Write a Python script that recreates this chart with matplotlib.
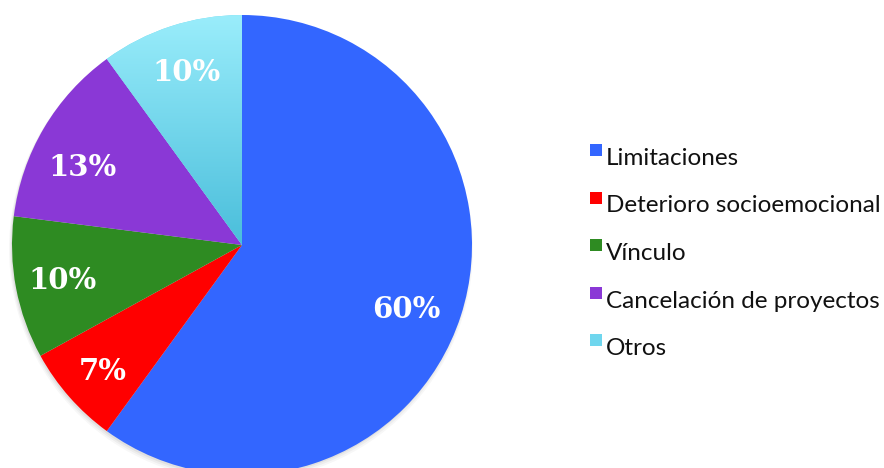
import matplotlib.pyplot as plt
import numpy as np
from matplotlib.patches import Rectangle
from matplotlib.colors import LinearSegmentedColormap

# Data
categorias = ["Limitaciones", "Deterioro socioemocional", "Vínculo",
              "Cancelación de proyectos", "Otros"]
porcentajes = [60, 7, 10, 13, 10]
colores = ["#3366FF", "#FF0000", "#2E8B22", "#8A38D6", "#6FD6EE"]

# small pixel nudges for the percentage labels
ajustes = [(-6, -7), (-5, -6), (-3, 0), (-5, -12), (0, 4)]

# Figure in pixel units
fig = plt.figure(figsize=(8.84, 4.68), dpi=100)
ax = fig.add_axes([0, 0, 1, 1])

centro = (242, 468 - 245)
radio = 230

# soft shadow under the pie
for k, a in enumerate([0.05, 0.04, 0.03]):
    sombra = plt.Circle((centro[0] - 1, centro[1] - 2 - k), radio + k,
                        color="black", alpha=a, lw=0, zorder=0)
    ax.add_patch(sombra)

wedges, textos, autotextos = ax.pie(
    porcentajes, colors=colores, startangle=90, counterclock=False,
    center=centro, radius=radio, autopct="%d%%", pctdistance=0.78,
    wedgeprops=dict(linewidth=0), frame=True)
ax.set_xlim(0, 884)
ax.set_ylim(0, 468)
ax.set_aspect("equal")
ax.axis("off")

tam = 21
cap = 0.73 * tam * 100 / 72
for t, (dx, dy) in zip(autotextos, ajustes):
    x, y = t.get_position()
    t.set_position((x + dx, y + dy - cap / 2))
    t.set_va("baseline")
    t.set_color("white")
    t.set_fontsize(tam)
    t.set_fontweight("bold")
    t.set_family("DejaVu Serif")

# vertical gradient on the last slice
otros = wedges[-1]
grad = np.linspace(0, 1, 256).reshape(-1, 1)
cmap = LinearSegmentedColormap.from_list("cian", ["#9AEDFB", "#4ABEDB"])
img = ax.imshow(grad, cmap=cmap, aspect="auto", origin="upper",
                extent=(centro[0] - radio, centro[0],
                        centro[1], centro[1] + radio), zorder=1.5)
img.set_clip_path(otros)
autotextos[-1].set_zorder(3)

# legend
base0 = 468 - 165
paso = 47.5
for i, (cat, col) in enumerate(zip(categorias, colores)):
    y = base0 - i * paso
    ax.add_patch(Rectangle((590, y + 9), 12, 12, color=col, lw=0))
    ax.text(606, y, cat, fontsize=17.5, family="Lato", va="baseline",
            color="#111111")

plt.savefig("out.png", dpi=100)
